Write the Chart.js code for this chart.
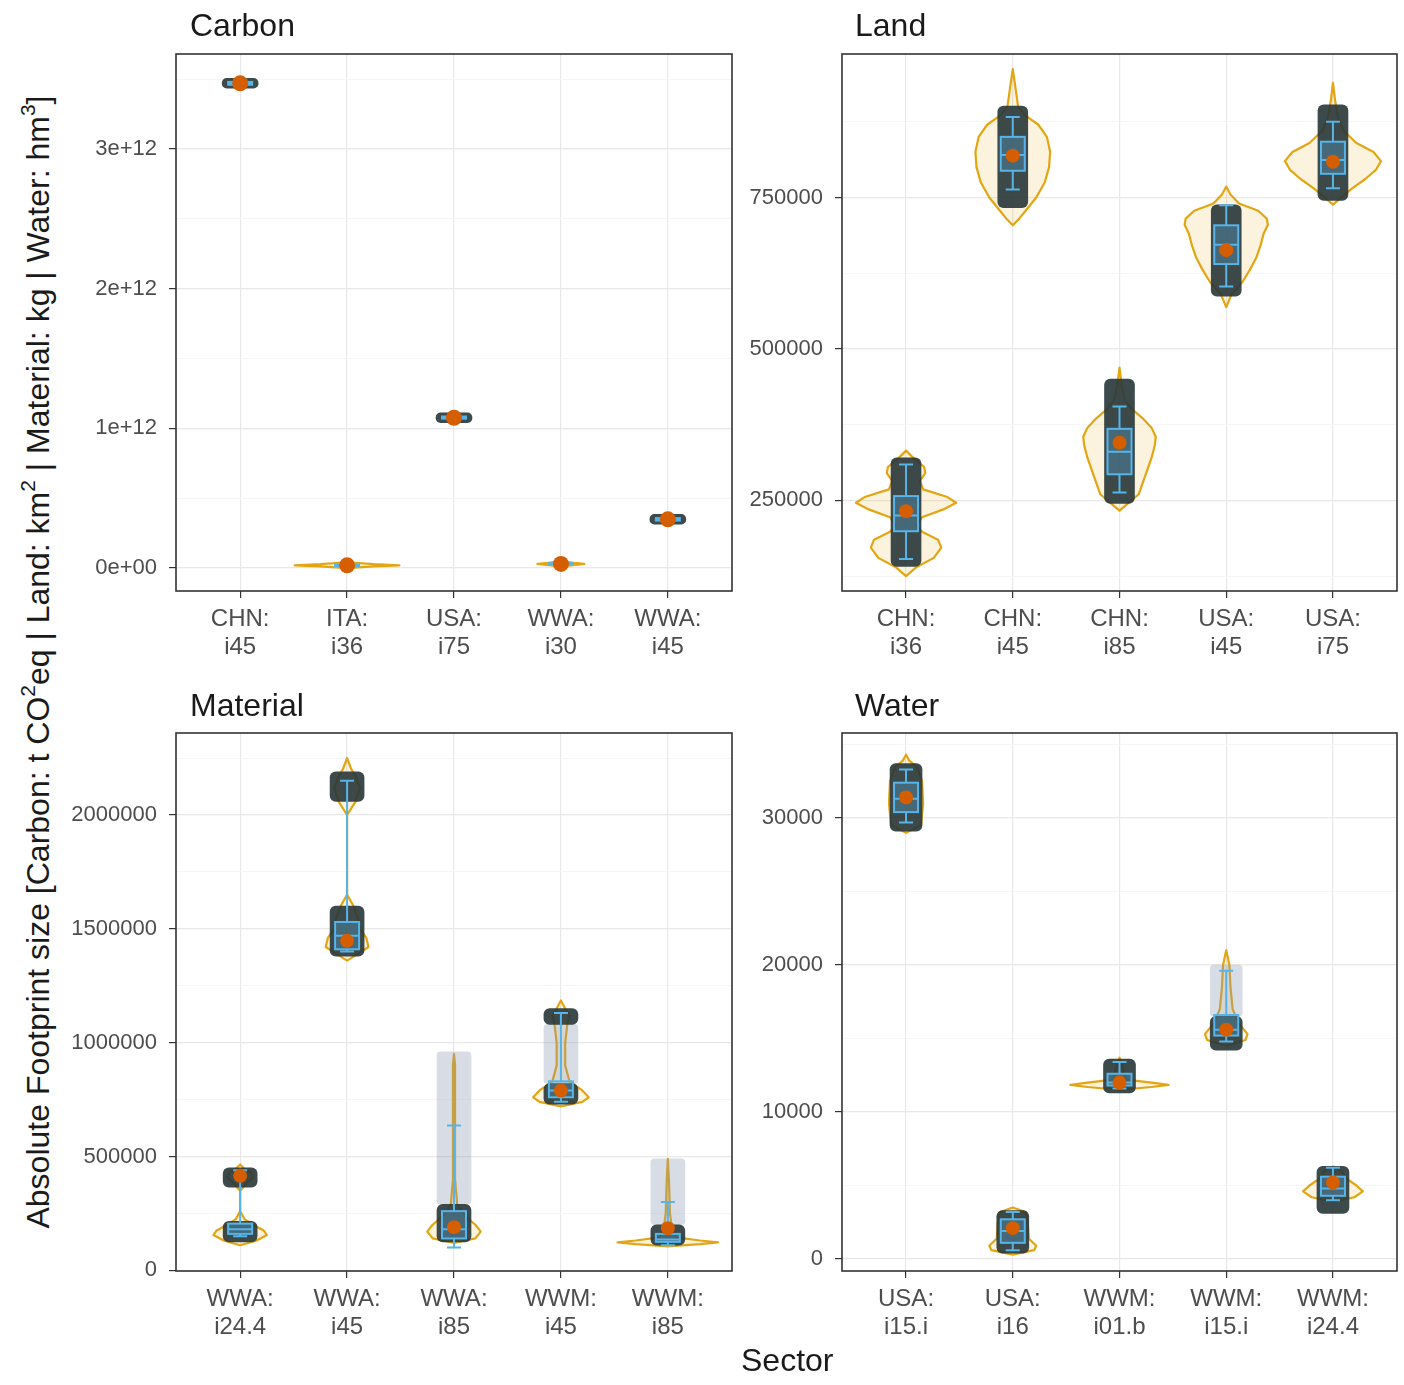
<!DOCTYPE html>
<html><head><meta charset="utf-8">
<script src="https://cdn.jsdelivr.net/npm/chart.js@4.4.1/dist/chart.umd.min.js"></script>
<style>
body{margin:0;background:#fff;width:1404px;height:1385px;position:relative;overflow:hidden;font-family:"Liberation Sans",Arial,sans-serif;}
canvas{position:absolute;}
.t{position:absolute;font-size:32px;color:#1a1a1a;white-space:nowrap;line-height:1;}
.yt{position:absolute;left:-612px;top:642px;width:1300px;height:40px;line-height:40px;text-align:center;font-size:32px;color:#1a1a1a;white-space:nowrap;transform:rotate(-90deg);}
sup{font-size:21px;line-height:0;vertical-align:14px;}
</style></head><body>
<canvas id="c1" width="680" height="640" style="left:60px;top:40px"></canvas>
<canvas id="c2" width="664" height="640" style="left:740px;top:40px"></canvas>
<canvas id="c3" width="680" height="640" style="left:60px;top:720px"></canvas>
<canvas id="c4" width="664" height="640" style="left:740px;top:720px"></canvas>
<div class="t" style="left:190px;top:9px">Carbon</div>
<div class="t" style="left:855px;top:9px">Land</div>
<div class="t" style="left:190px;top:689px">Material</div>
<div class="t" style="left:855px;top:689px">Water</div>
<div class="t" style="left:741px;top:1344px">Sector</div>
<div class="yt">Absolute Footprint size [Carbon: t CO<sup>2</sup>eq | Land: km<sup>2</sup> | Material: kg | Water: hm<sup>3</sup>]</div>
<script>
// ---------------- Carbon ----------------
const carbonCategories = ["CHN: i45","ITA: i36","USA: i75","WWA: i30","WWA: i45"];
const carbonTicks = [0, 1e12, 2e12, 3e12];
const carbonTickLabels = ["0e+00","1e+12","2e+12","3e+12"];
const carbonMinorTicks = [0.5e12, 1.5e12, 2.5e12, 3.5e12];
const carbonMean = [3.47e12, 0.02e12, 1.076e12, 0.03e12, 0.349e12];
const carbonCloud = [[3.435e12,3.505e12], null, [1.041e12,1.111e12], null, [0.314e12,0.384e12]];
const carbonCloudHigh = [null,null,null,null,null];
const carbonSparse = [null,null,null,null,null];
const carbonBox = [[3.45e12,3.46e12,3.47e12,3.48e12,3.495e12],[0.01e12,0.015e12,0.02e12,0.025e12,0.03e12],[1.06e12,1.07e12,1.076e12,1.085e12,1.095e12],[0.02e12,0.025e12,0.03e12,0.035e12,0.04e12],[0.33e12,0.34e12,0.349e12,0.358e12,0.368e12]];
const carbonViolin = [[], [[0,0],[0.012e12,0.25],[0.02e12,0.49],[0.028e12,0.25],[0.042e12,0]], [], [[0.012e12,0],[0.022e12,0.14],[0.03e12,0.22],[0.038e12,0.12],[0.05e12,0]], []];

// ---------------- Land ----------------
const landCategories = ["CHN: i36","CHN: i45","CHN: i85","USA: i45","USA: i75"];
const landTicks = [250000, 500000, 750000];
const landTickLabels = ["250000","500000","750000"];
const landMinorTicks = [125000, 375000, 625000, 875000];
const landMean = [232000, 819000, 345000, 663000, 809000];
const landCloud = [[141000,320000],[733000,901000],[245000,450000],[587000,738000],[745000,903000]];
const landCloudHigh = [null,null,null,null,null];
const landSparse = [null,null,null,null,null];
const landBox = [[153000,199000,225000,257000,309000],[763000,794000,820000,850000,883000],[263000,293000,330000,368000,405000],[603000,640000,672000,704000,737000],[765000,789000,812000,842000,875000]];
const landViolin = [
 [[125000,0],[140000,0.1],[155000,0.26],[172000,0.33],[185000,0.3],[198000,0.15],[208000,0.1],[222000,0.15],[235000,0.35],[246000,0.47],[256000,0.38],[268000,0.16],[282000,0.13],[295000,0.18],[305000,0.17],[315000,0.1],[325000,0.04],[332000,0]],
 [[704000,0],[715000,0.06],[730000,0.13],[750000,0.22],[775000,0.3],[800000,0.34],[825000,0.35],[850000,0.32],[870000,0.24],[885000,0.12],[900000,0.05],[925000,0.03],[950000,0.01],[962000,0]],
 [[233000,0],[245000,0.08],[260000,0.18],[280000,0.22],[300000,0.26],[320000,0.3],[340000,0.33],[355000,0.34],[370000,0.3],[385000,0.22],[400000,0.12],[415000,0.05],[440000,0.02],[469000,0]],
 [[569000,0],[590000,0.05],[610000,0.15],[630000,0.22],[650000,0.28],[670000,0.32],[690000,0.35],[705000,0.39],[715000,0.38],[728000,0.3],[740000,0.12],[755000,0.04],[768000,0]],
 [[738000,0],[750000,0.08],[765000,0.18],[780000,0.3],[795000,0.4],[810000,0.45],[825000,0.38],[840000,0.22],[860000,0.1],[880000,0.05],[910000,0.02],[939000,0]]
];

// ---------------- Material ----------------
const materialCategories = ["WWA: i24.4","WWA: i45","WWA: i85","WWM: i45","WWM: i85"];
const materialTicks = [0, 500000, 1000000, 1500000, 2000000];
const materialTickLabels = ["0","500000","1000000","1500000","2000000"];
const materialMinorTicks = [250000, 750000, 1250000, 1750000, 2250000];
const materialMean = [415000, 1447000, 189000, 790000, 185000];
const materialCloud = [[125000,215000],[1380000,1600000],[125000,290000],[730000,820000],[110000,200000]];
const materialCloudHigh = [[365000,450000],[2060000,2190000],null,[1080000,1150000],null];
const materialSparse = [null,null,[290000,960000],[820000,1080000],[200000,490000]];
const materialBox = [[150000,160000,180000,205000,440000],[1400000,1410000,1470000,1530000,2150000],[100000,140000,180000,260000,636000],[740000,760000,790000,830000,1130000],[110000,125000,135000,160000,300000]];
const materialViolin = [
 [[110000,0],[130000,0.15],[155000,0.25],[175000,0.22],[200000,0.12],[225000,0.04],[260000,0],[350000,0],[380000,0.06],[410000,0.12],[430000,0.1],[450000,0.03],[465000,0]],
 [[1360000,0],[1390000,0.1],[1420000,0.2],[1460000,0.18],[1500000,0.12],[1550000,0.1],[1600000,0.06],[1650000,0],[2000000,0],[2060000,0.08],[2120000,0.12],[2170000,0.08],[2200000,0.04],[2250000,0]],
 [[120000,0],[140000,0.2],[170000,0.25],[200000,0.2],[240000,0.1],[290000,0.03],[400000,0.01],[700000,0.01],[900000,0.01],[950000,0]],
 [[720000,0],[740000,0.2],[760000,0.26],[790000,0.2],[830000,0.08],[900000,0.04],[1000000,0.04],[1080000,0.06],[1120000,0.08],[1150000,0.04],[1185000,0]],
 [[105000,0],[115000,0.3],[123000,0.47],[131000,0.3],[145000,0.08],[180000,0.04],[250000,0.02],[400000,0.01],[490000,0]]
];

// ---------------- Water ----------------
const waterCategories = ["USA: i15.i","USA: i16","WWM: i01.b","WWM: i15.i","WWM: i24.4"];
const waterTicks = [0, 10000, 20000, 30000];
const waterTickLabels = ["0","10000","20000","30000"];
const waterMinorTicks = [5000, 15000, 25000, 35000];
const waterMean = [31400, 2100, 12000, 15600, 5200];
const waterCloud = [[29100,33700],[400,3300],[11300,13600],[14200,16500],[3100,6300]];
const waterCloudHigh = [null,null,null,null,null];
const waterSparse = [null,null,null,[16500,20000],null];
const waterBox = [[29700,30400,31300,32400,33300],[600,1100,1900,2700,3200],[11600,11800,12000,12600,13400],[14800,15200,15600,16600,19600],[4000,4300,4800,5600,6200]];
const waterViolin = [
 [[29000,0],[29500,0.14],[31000,0.16],[32500,0.15],[33500,0.1],[33900,0.03],[34300,0]],
 [[300,0],[600,0.2],[900,0.22],[1400,0.15],[2500,0.14],[3200,0.12],[3500,0]],
 [[11500,0],[11700,0.3],[11850,0.46],[12000,0.3],[12200,0.06],[13000,0.03],[13700,0]],
 [[14500,0],[14900,0.18],[15300,0.2],[16000,0.12],[17000,0.06],[18500,0.04],[20000,0.03],[21000,0]],
 [[3900,0],[4200,0.2],[4600,0.28],[5000,0.22],[5500,0.12],[6000,0.08],[6300,0]]
];

const VIOLIN_LINE = '#E3A612', VIOLIN_FILL = 'rgba(230,159,0,0.13)';
const BOX = '#56B4E9', MEAN = '#D55E00', CLOUD = 'rgba(40,54,56,0.9)', SPARSE = 'rgba(135,148,175,0.32)';

function toPts(arr){ const out=[]; arr.forEach((r,i)=>{ if(r) out.push({x:i,y:r}); }); return out; }

function clipArea(chart){ const a=chart.chartArea, ctx=chart.ctx; ctx.save(); ctx.beginPath(); ctx.rect(a.left,a.top,a.right-a.left,a.bottom-a.top); ctx.clip(); }

function vbPlugin(violins, boxes){
  return {
    id:'vb',
    beforeDatasetsDraw(chart){
      const ctx=chart.ctx, xs=chart.scales.x, ys=chart.scales.y;
      const unit = xs.getPixelForValue(1)-xs.getPixelForValue(0);
      clipArea(chart);
      violins.forEach((prof,i)=>{
        if(!prof.length) return;
        const x0=xs.getPixelForValue(i);
        ctx.beginPath();
        prof.forEach((p,k)=>{ const px=x0+p[1]*unit, py=ys.getPixelForValue(p[0]); k?ctx.lineTo(px,py):ctx.moveTo(px,py); });
        for(let k=prof.length-1;k>=0;k--){ const p=prof[k]; ctx.lineTo(x0-p[1]*unit, ys.getPixelForValue(p[0])); }
        ctx.closePath();
        ctx.fillStyle=VIOLIN_FILL; ctx.fill();
        ctx.lineWidth=2.2; ctx.lineJoin='round'; ctx.strokeStyle=VIOLIN_LINE; ctx.stroke();
      });
      ctx.restore();
    },
    afterDatasetDraw(chart,args){
      if(args.index!==1) return;
      const ctx=chart.ctx, xs=chart.scales.x, ys=chart.scales.y;
      clipArea(chart);
      const bw=12, cw=7;
      boxes.forEach((b,i)=>{
        if(!b) return;
        const x0=xs.getPixelForValue(i);
        const [mn,q1,md,q3,mx]=b.map(v=>ys.getPixelForValue(v));
        ctx.strokeStyle=BOX; ctx.lineWidth=2;
        ctx.fillStyle='rgba(86,180,233,0.3)';
        ctx.fillRect(x0-bw,q3,2*bw,q1-q3);
        ctx.strokeRect(x0-bw,q3,2*bw,q1-q3);
        ctx.beginPath();
        ctx.moveTo(x0-bw,md); ctx.lineTo(x0+bw,md);
        ctx.moveTo(x0,q3); ctx.lineTo(x0,mx);
        ctx.moveTo(x0,q1); ctx.lineTo(x0,mn);
        ctx.moveTo(x0-cw,mx); ctx.lineTo(x0+cw,mx);
        ctx.moveTo(x0-cw,mn); ctx.lineTo(x0+cw,mn);
        ctx.stroke();
      });
      ctx.restore();
    },
    afterDraw(chart){
      const ctx=chart.ctx, a=chart.chartArea;
      ctx.save(); ctx.strokeStyle='#333333'; ctx.lineWidth=1.6;
      ctx.strokeRect(a.left,a.top,a.right-a.left,a.bottom-a.top); ctx.restore();
    }
  };
}

function makePanel(id, cats, ticks, tickLabels, minor, ymin, ymax, means, cloud, cloudHigh, sparse, boxes, violins, yW, padRight, padTop, cloudW, meanR){
  const allTicks = ticks.map((v,i)=>({value:v, label:tickLabels[i]})).concat(minor.map(v=>({value:v, minor:true, label:''})));
  allTicks.sort((p,q)=>p.value-q.value);
  new Chart(document.getElementById(id), {
    type:'bar',
    data:{ datasets:[
      {type:'line', data:means.map((v,i)=>({x:i,y:v})), showLine:false, pointRadius:meanR, pointStyle:'circle', backgroundColor:MEAN, borderColor:MEAN, borderWidth:0, pointHoverRadius:meanR},
      {data:toPts(cloud), backgroundColor:CLOUD, barThickness:cloudW, grouped:false, borderRadius:6, borderSkipped:false},
      {data:toPts(cloudHigh), backgroundColor:CLOUD, barThickness:cloudW, grouped:false, borderRadius:6, borderSkipped:false},
      {data:toPts(sparse), backgroundColor:SPARSE, barThickness:cloudW, grouped:false, borderRadius:4, borderSkipped:false}
    ]},
    options:{
      responsive:false, animation:false, events:[],
      layout:{padding:{top:padTop,right:padRight,left:0,bottom:0}},
      plugins:{legend:{display:false}, tooltip:{enabled:false}},
      scales:{
        x:{ type:'linear', min:-0.6, max:4.6, offset:false,
            afterBuildTicks:s=>{ s.ticks=cats.map((c,i)=>({value:i})); },
            afterFit:s=>{ s.height=89; s.paddingLeft=0; s.paddingRight=0; },
            ticks:{ autoSkip:false, maxRotation:0, padding:7, color:'#4d4d4d', font:{family:'Liberation Sans', size:24, lineHeight:1.18},
                    callback:(v)=>cats[v].split(' ') },
            grid:{ offset:false, color:'#e8e8e8', lineWidth:1.2, tickLength:7, tickColor:'#333333', drawTicks:true },
            border:{display:false}
        },
        y:{ type:'linear', min:ymin, max:ymax,
            afterBuildTicks:s=>{ s.ticks=allTicks.map(t=>({value:t.value, minor:!!t.minor})); },
            afterFit:s=>{ s.width=yW; s.paddingTop=0; s.paddingBottom=0; },
            ticks:{ autoSkip:false, padding:12, color:'#4d4d4d', font:{family:'Liberation Sans', size:22},
                    callback:(v)=>{ const t=allTicks.find(t=>t.value===v); return t?t.label:''; } },
            grid:{ color:c=>(c.tick&&c.tick.minor)?'#f4f4f4':'#e8e8e8', lineWidth:c=>(c.tick&&c.tick.minor)?0.8:1.2,
                   tickLength:7, tickColor:c=>(c.tick&&c.tick.minor)?'rgba(0,0,0,0)':'#333333' },
            border:{display:false}
        }
      }
    },
    plugins:[vbPlugin(violins, boxes)]
  });
}

makePanel('c1', carbonCategories, carbonTicks, carbonTickLabels, carbonMinorTicks, -0.164e12, 3.68e12, carbonMean, carbonCloud, carbonCloudHigh, carbonSparse, carbonBox, carbonViolin, 116, 8, 14, 36, 8);
makePanel('c2', landCategories, landTicks, landTickLabels, landMinorTicks, 100300, 986800, landMean, landCloud, landCloudHigh, landSparse, landBox, landViolin, 102, 6, 14, 30, 7);
makePanel('c3', materialCategories, materialTicks, materialTickLabels, materialMinorTicks, -3000, 2360000, materialMean, materialCloud, materialCloudHigh, materialSparse, materialBox, materialViolin, 116, 8, 13, 34, 7);
makePanel('c4', waterCategories, waterTicks, waterTickLabels, waterMinorTicks, -816, 35780, waterMean, waterCloud, waterCloudHigh, waterSparse, waterBox, waterViolin, 102, 6, 13, 32, 7);
</script>
</body></html>
